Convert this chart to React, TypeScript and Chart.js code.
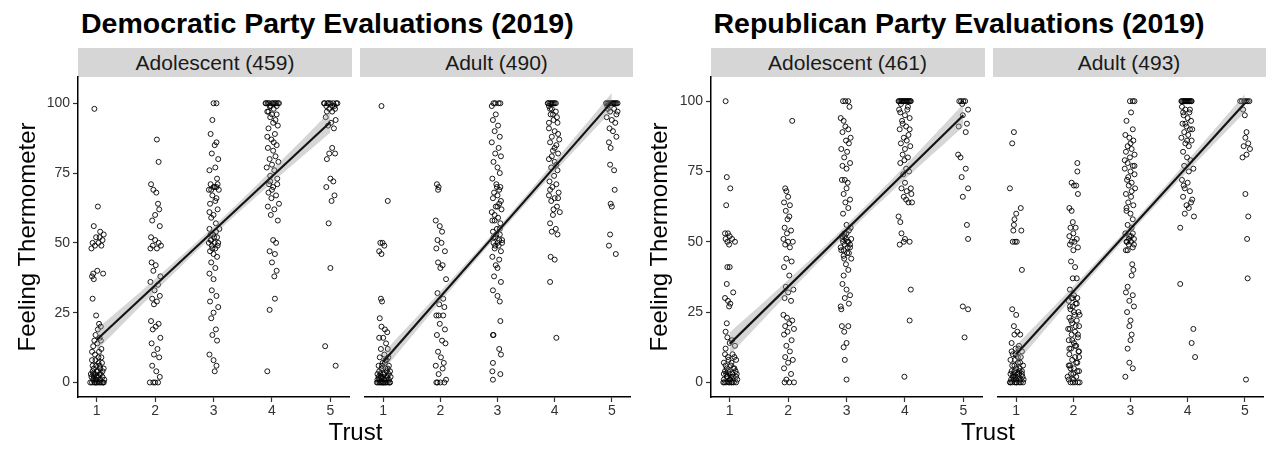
import React, { useEffect, useRef } from "react";
import { Chart, registerables } from "chart.js";
Chart.register(...registerables);

type P = [number, number];

const xTicks = [1, 2, 3, 4, 5];
const yTicks = [0, 25, 50, 75, 100];
const bandX = [1, 2, 3, 4, 5];
const lineX = [1, 5];

const plotTitles = ["Democratic Party Evaluations (2019)", "Republican Party Evaluations (2019)"];
const stripLabels = ["Adolescent (459)", "Adult (490)", "Adolescent (461)", "Adult (493)"];

// ---------- Democratic, adolescent ----------
const demAdolT1: P[] = [[0.96,98],[1.02,63],[0.95,56],[1.06,54],[0.99,52],[1.1,51],[0.93,50],[1.03,50],[1.08,49],[0.97,49],[1.12,53],[0.91,48],[1.05,52],[0.94,39],[0.92,38],[1.01,40],[0.95,37],[1.11,39],[0.93,30],[0.99,24],[1.04,21],[1.07,20],[1.02,19],[0.98,17],[1.05,16],[0.96,15],[1.01,14],[0.94,13],[1.08,12],[0.97,10],[1.03,9],[0.92,8],[1.09,7],[0.99,6],[1.05,6],[0.95,5],[1.12,5],[1.0,4],[0.93,4],[1.07,3],[0.97,3],[1.03,2],[1.1,2],[0.91,2],[0.98,1],[1.06,1],[0.94,1],[1.01,0],[0.96,0],[1.04,0],[1.09,0],[0.92,0],[1.12,0],[0.99,0],[1.06,0]];
const demAdolT1b: P[] = [[0.9,3],[0.95,2],[1.0,1],[1.05,3],[1.1,4],[0.93,6],[0.98,8],[1.03,7],[1.08,9],[1.13,1],[0.89,0],[1.0,2],[0.94,3],[1.06,5],[1.11,0],[0.97,0],[1.02,4],[0.92,11],[1.04,11],[1.07,15]];
const demAdolT2: P[] = [[2.03,87],[2.06,79],[1.93,71],[1.97,69],[2.02,68],[2.05,64],[2.07,62],[2.0,60],[1.95,58],[2.08,56],[1.93,52],[2.0,51],[2.06,50],[1.96,49],[2.1,49],[1.92,48],[2.03,48],[1.94,43],[2.01,42],[1.97,40],[2.09,38],[1.92,36],[2.05,35],[1.99,33],[2.08,31],[1.95,30],[2.03,29],[1.98,28],[1.93,22],[2.06,21],[2.01,20],[1.96,19],[2.09,16],[1.94,14],[2.04,12],[1.98,10],[2.07,9],[1.95,6],[2.02,4],[2.08,2],[1.91,0],[2.0,0],[2.05,0],[1.97,0]];
const demAdolT3: P[] = [[3.0,100],[3.05,100],[2.98,94],[2.95,89],[3.05,86],[3.02,85],[2.97,82],[3.08,80],[3.03,77],[2.93,76],[3.06,73],[2.95,71],[3.0,70],[3.05,70],[2.92,69],[3.09,69],[2.98,67],[3.03,65],[2.94,64],[3.07,62],[3.0,60],[2.96,59],[3.04,57],[2.93,55],[3.1,55],[2.99,53],[3.06,52],[2.95,51],[3.02,50],[3.08,50],[2.97,49],[3.03,48],[2.94,47],[3.0,46],[3.06,45],[2.96,43],[3.03,41],[2.93,39],[3.0,37],[2.97,33],[3.05,31],[2.94,29],[3.08,27],[3.0,25],[2.96,23],[3.04,19],[2.98,17],[3.06,15],[2.93,10],[3.0,8],[3.05,6],[3.02,4]];
const demAdolT3b: P[] = [[2.92,50],[2.96,51],[3.01,52],[3.07,49],[2.95,53],[3.04,54],[2.98,48],[3.02,70],[2.96,69],[3.07,71],[2.93,61],[3.05,66]];
const demAdolT4: P[] = [[3.9,100],[3.95,100],[4.0,100],[4.05,100],[4.1,100],[3.93,100],[4.07,100],[3.98,99],[4.03,98],[3.92,97],[4.08,96],[3.97,95],[4.02,93],[4.1,92],[3.94,91],[4.05,89],[3.99,87],[4.08,85],[3.93,84],[4.02,83],[4.06,81],[3.96,80],[4.11,79],[4.0,78],[3.91,77],[4.04,76],[3.97,72],[4.09,71],[4.02,70],[3.94,68],[4.07,67],[3.99,66],[4.12,64],[3.93,63],[4.04,62],[3.98,60],[4.1,58],[4.02,51],[4.07,50],[3.96,47],[4.05,46],[4.0,43],[4.08,40],[4.04,38],[4.05,30],[3.96,26],[3.92,4]];
const demAdolT4b: P[] = [[3.89,100],[3.96,99],[4.02,100],[4.08,99],[4.12,100],[3.94,97],[4.0,96],[4.06,94],[3.92,88],[4.03,86],[3.97,74],[4.09,73],[3.95,71],[4.0,69]];
const demAdolT5: P[] = [[4.9,100],[4.95,100],[5.0,100],[5.05,100],[5.1,100],[4.93,99],[5.07,99],[4.98,98],[5.03,97],[4.92,95],[5.09,94],[5.01,93],[4.96,92],[5.06,91],[5.03,84],[4.98,82],[5.08,82],[4.94,80],[5.0,73],[5.05,72],[4.93,70],[5.07,67],[5.02,65],[4.97,57],[5.0,41],[4.91,13],[5.09,6]];
const demAdolT5b: P[] = [[4.89,100],[4.97,100],[5.03,99],[5.08,98],[4.94,97],[5.12,100]];
const demAdolLine = [15.3, 93.3];
const demAdolLo = [11.5, 32.5, 52.7, 71.5, 89.5];
const demAdolHi = [19.1, 37.1, 55.9, 76.1, 97.1];

// ---------- Democratic, adult ----------
const demAdultT1: P[] = [[0.97,99],[1.08,65],[0.95,50],[0.99,50],[1.02,49],[0.93,47],[0.97,46],[0.96,30],[0.98,29],[0.94,23],[0.97,20],[1.03,19],[1.07,18],[0.93,16],[1.0,16],[1.05,14],[0.96,12],[1.08,12],[1.02,10],[0.94,9],[1.06,8],[0.99,7],[1.1,6],[0.92,6],[1.04,5],[0.97,5],[1.12,4],[1.0,3],[0.9,3],[1.07,2],[0.95,2],[1.02,1],[1.1,1],[0.93,1],[0.98,0],[1.05,0],[1.12,0],[0.91,0],[1.01,0],[0.96,0],[1.08,0],[1.03,0]];
const demAdultT1b: P[] = [[0.9,1],[0.95,3],[1.0,2],[1.05,1],[1.1,3],[0.93,4],[0.98,6],[1.03,7],[1.08,5],[1.13,2],[0.89,0],[1.0,0],[0.94,0],[1.06,4],[1.11,0],[0.97,2],[1.02,3],[0.92,2],[1.04,8],[1.09,9]];
const demAdultT2: P[] = [[1.94,71],[1.97,70],[1.96,69],[1.92,58],[1.99,56],[2.03,54],[1.95,51],[2.02,50],[1.93,48],[2.08,47],[1.96,43],[2.04,42],[2.0,41],[2.1,37],[1.95,32],[2.05,30],[1.98,28],[2.07,27],[1.93,24],[1.97,24],[2.05,24],[1.99,21],[2.08,19],[1.94,17],[2.03,15],[2.09,14],[1.96,11],[2.01,9],[2.06,7],[1.92,6],[2.04,5],[1.97,3],[2.1,1],[1.93,0],[2.0,0],[2.07,0],[1.95,0]];
const demAdultT3: P[] = [[2.93,100],[2.96,100],[3.02,100],[3.05,100],[2.9,99],[2.97,96],[2.92,94],[3.01,92],[2.95,90],[3.04,88],[2.9,86],[3.02,84],[2.96,82],[3.06,81],[2.93,79],[3.0,77],[3.04,75],[2.91,73],[2.98,71],[3.05,70],[2.94,68],[3.0,67],[2.92,66],[3.03,64],[2.97,63],[3.07,62],[2.9,61],[3.01,59],[2.95,58],[3.05,57],[2.99,55],[2.92,54],[3.04,53],[2.96,52],[3.08,51],[2.93,50],[3.0,50],[3.02,49],[2.95,48],[3.06,47],[2.91,45],[3.03,44],[2.97,42],[3.0,41],[2.94,38],[3.06,36],[2.92,33],[3.0,31],[3.04,29],[3.05,22],[2.92,17],[2.93,17],[3.03,12],[3.06,10],[2.92,7],[2.91,4],[3.05,3],[2.92,1]];
const demAdultT3b: P[] = [[2.93,52],[2.98,53],[3.03,51],[3.08,50],[2.96,49],[3.04,55],[2.91,58],[3.0,63],[3.06,65],[2.95,60],[2.99,70],[3.03,69]];
const demAdultT4: P[] = [[3.88,100],[3.92,100],[3.96,100],[4.0,100],[3.9,99],[3.95,98],[4.02,97],[3.93,96],[3.98,94],[4.05,93],[3.9,91],[4.0,90],[3.95,88],[4.08,87],[3.92,86],[4.03,85],[3.97,83],[4.06,82],[3.9,80],[4.0,79],[3.94,77],[4.05,76],[3.99,74],[3.91,72],[4.03,71],[3.96,70],[4.07,68],[3.9,67],[4.0,66],[3.94,65],[4.04,63],[3.98,62],[4.09,61],[3.92,57],[4.02,55],[3.95,54],[4.05,53],[3.93,45],[4.0,44],[3.92,36],[4.03,16]];
const demAdultT4b: P[] = [[3.89,100],[3.94,100],[3.98,100],[4.02,100],[3.92,98],[3.97,96],[4.04,95],[3.9,93],[4.06,89],[4.0,84],[3.95,81],[4.03,78],[3.92,69],[4.06,66],[3.97,60]];
const demAdultT5: P[] = [[4.9,100],[4.94,100],[4.98,100],[5.02,100],[5.06,100],[5.1,100],[4.92,99],[5.04,98],[4.97,97],[5.08,96],[4.91,95],[5.0,94],[5.06,93],[4.96,91],[5.02,90],[5.08,88],[4.95,86],[4.98,84],[4.97,78],[5.04,76],[5.05,69],[4.98,64],[5.0,63],[4.97,53],[4.95,49],[5.07,46]];
const demAdultT5b: P[] = [[4.92,100],[4.96,100],[5.0,100],[5.04,100],[5.08,100],[4.93,98],[5.1,97]];
const demAdultLine = [7.4, 100.5];
const demAdultLo = [4.2, 28.8, 52.6, 75.4, 97.3];
const demAdultHi = [10.6, 32.6, 55.2, 79.2, 103.7];

// ---------- Republican, adolescent ----------
const repAdolT1: P[] = [[0.93,100],[0.95,73],[1.01,69],[0.94,63],[0.92,53],[0.97,53],[1.0,52],[0.93,51],[1.04,51],[0.96,50],[1.09,50],[0.99,49],[0.96,41],[1.0,41],[0.95,35],[1.06,32],[0.92,30],[0.97,29],[1.01,28],[0.99,27],[0.95,21],[0.93,18],[0.96,16],[1.04,15],[1.0,14],[1.09,13],[0.93,12],[1.05,10],[0.97,9],[1.11,8],[0.9,7],[1.02,6],[0.95,5],[1.08,5],[0.92,4],[1.0,3],[1.12,3],[0.96,2],[1.05,2],[0.9,1],[1.01,1],[0.94,0],[0.98,0],[1.03,0],[1.07,0],[1.11,0],[0.91,0]];
const repAdolT1b: P[] = [[0.9,3],[0.95,2],[1.0,1],[1.05,3],[1.1,4],[0.93,6],[0.98,8],[1.03,7],[1.08,9],[1.13,1],[0.89,0],[1.0,0],[0.94,3],[1.06,5],[1.11,2],[0.97,4],[1.02,2],[0.92,10],[1.04,0]];
const repAdolT2: P[] = [[2.07,93],[1.95,69],[1.97,68],[2.0,66],[1.93,64],[2.03,63],[1.96,61],[2.02,59],[1.99,58],[1.94,55],[2.05,54],[1.98,53],[1.92,51],[2.0,50],[2.08,50],[1.95,49],[2.03,48],[1.97,44],[2.06,43],[1.93,41],[2.02,38],[1.96,34],[2.09,33],[2.0,32],[1.94,30],[2.05,29],[1.92,24],[1.98,23],[2.07,22],[2.02,21],[1.95,20],[2.1,19],[1.99,18],[1.93,17],[2.06,15],[1.97,13],[2.03,11],[1.95,9],[2.08,8],[2.0,7],[1.93,5],[2.05,3],[1.97,1],[2.1,0],[1.94,0],[2.02,0]];
const repAdolT3: P[] = [[2.94,100],[2.98,100],[3.03,100],[3.05,98],[2.9,94],[2.95,93],[2.98,91],[3.03,90],[2.93,89],[3.07,87],[2.99,86],[3.04,85],[2.91,83],[3.01,82],[2.96,80],[3.06,78],[2.93,77],[3.0,76],[2.92,72],[2.97,72],[3.02,71],[3.0,69],[2.95,67],[3.06,65],[2.98,64],[3.03,62],[2.94,60],[3.0,56],[3.04,54],[2.96,53],[2.92,52],[3.08,51],[2.99,51],[2.94,50],[3.03,50],[2.97,49],[3.06,48],[2.91,47],[3.01,46],[2.95,45],[3.08,44],[2.99,42],[3.03,40],[2.95,38],[2.93,35],[3.0,33],[3.06,31],[2.97,30],[3.04,28],[2.9,27],[2.91,26],[2.92,20],[3.03,20],[2.96,18],[3.0,14],[2.95,12.5],[2.97,8],[3.0,1]];
const repAdolT3b: P[] = [[2.93,51],[2.97,52],[3.01,50],[3.06,49],[2.95,47],[3.04,46],[2.9,48],[3.0,53],[3.07,55],[2.96,44],[3.02,48]];
const repAdolT4: P[] = [[3.89,100],[3.92,100],[3.95,100],[3.98,100],[4.01,100],[4.04,100],[4.07,100],[4.1,100],[3.93,99],[4.05,98],[3.9,97],[4.0,95],[4.08,94],[3.95,93],[4.02,91],[3.91,90],[4.06,88],[3.98,87],[4.03,86],[3.93,85],[4.09,84],[4.0,83],[3.96,81],[4.05,80],[3.92,78],[4.02,76],[4.07,75],[3.97,74],[4.0,71],[3.94,69],[4.1,69],[4.03,68],[3.98,66],[4.06,64],[4.12,64],[3.89,59],[3.92,57],[3.94,53],[4.0,51],[3.98,50],[4.08,50],[3.91,49],[4.1,33],[4.08,22],[3.99,2]];
const repAdolT4b: P[] = [[3.9,100],[3.94,100],[3.97,100],[4.0,100],[4.03,100],[4.06,100],[4.09,100],[3.92,96],[4.04,97],[3.96,92],[4.08,90],[3.99,79],[4.11,67],[4.02,65]];
const repAdolT5: P[] = [[4.93,100],[4.96,100],[5.0,100],[5.03,100],[4.98,99],[5.08,97],[4.99,95],[5.06,92],[4.92,91],[5.04,89],[4.91,81],[4.95,80],[5.04,76],[4.97,73],[5.08,69],[4.99,66],[5.06,56],[5.08,51],[4.99,27],[5.08,26],[5.02,16]];
const repAdolLine = [13.7, 95];
const repAdolLo = [9.7, 31.6, 52.6, 72.2, 91.0];
const repAdolHi = [17.7, 36.4, 56.0, 77.0, 99.0];

// ---------- Republican, adult ----------
const repAdultT1: P[] = [[0.96,89],[0.93,85],[0.89,69],[1.08,62],[1.0,60],[0.97,58],[0.96,56],[0.95,54],[1.09,54],[0.94,50],[0.98,50],[1.01,50],[1.1,40],[0.93,26],[1.0,24],[0.96,20],[1.02,18],[1.07,17],[0.97,17],[0.92,14],[1.05,13],[0.99,12],[1.1,11],[0.94,10],[1.03,9],[0.9,8],[1.07,7],[0.97,6],[1.12,6],[1.0,5],[0.92,4],[1.06,4],[0.95,3],[1.1,3],[0.99,2],[1.04,2],[0.91,1],[1.08,1],[0.96,1],[1.01,0],[0.93,0],[1.05,0],[1.12,0],[0.98,0],[0.9,0],[1.08,0]];
const repAdultT1b: P[] = [[0.9,3],[0.95,2],[1.0,1],[1.05,3],[1.1,4],[0.93,6],[0.98,8],[1.03,7],[1.08,9],[1.13,1],[0.89,0],[1.0,0],[0.94,2],[1.06,5],[1.11,2],[0.97,4],[1.02,3],[0.92,11],[1.04,12],[0.99,10]];
const repAdultT2: P[] = [[2.07,78],[2.07,75],[1.97,71],[2.01,70],[2.05,70],[2.08,67],[1.93,62],[1.97,61],[1.99,57],[1.95,55],[2.04,55],[2.0,53],[1.93,52],[2.06,51],[1.97,50],[2.02,50],[1.94,49],[2.08,48],[2.0,47],[1.96,43],[2.03,41],[1.99,37],[2.06,37],[1.94,33],[2.01,31],[1.97,30],[2.07,30],[1.92,29],[2.04,28],[1.99,27],[1.95,26],[2.09,25],[2.02,24],[1.93,23],[2.06,22],[1.98,21],[2.1,20],[1.94,19],[2.03,18],[1.97,17],[2.08,16],[1.92,15],[2.01,14],[2.05,13],[1.96,12],[2.1,11],[1.93,10],[2.03,9],[1.98,8],[2.07,7],[1.94,6],[2.01,5],[2.1,4],[1.96,3],[2.05,2],[1.92,1],[2.0,1],[2.08,0],[1.95,0],[2.03,0],[1.99,0],[2.11,0]];
const repAdultT2b: P[] = [[1.9,2],[1.95,5],[2.0,3],[2.05,7],[2.1,9],[1.93,12],[1.98,15],[2.03,13],[2.08,17],[1.91,19],[1.96,22],[2.01,25],[2.06,28],[2.11,24],[1.94,27],[1.99,30],[2.04,20],[2.09,11],[1.92,6],[2.07,4]];
const repAdultT3: P[] = [[2.99,100],[3.04,100],[3.07,100],[3.01,96],[2.93,93],[3.04,90],[2.91,88],[2.98,87],[3.05,86],[2.95,84],[3.02,83],[2.92,82],[3.07,81],[2.99,80],[2.95,78],[3.04,77],[2.9,76],[3.0,75],[3.07,74],[2.94,72],[3.02,71],[2.97,70],[3.08,69],[2.92,67],[3.01,66],[2.96,64],[3.05,63],[2.93,61],[3.0,60],[3.04,58],[2.95,56],[3.02,55],[2.91,53],[2.98,52],[3.06,51],[2.94,50],[3.01,50],[2.97,49],[3.04,48],[2.92,47],[3.03,42],[3.05,40],[3.02,38],[2.95,34],[2.92,32],[3.04,31],[2.98,29],[3.06,27],[2.94,25],[3.0,22],[2.98,20],[3.02,17],[3.0,15],[2.95,12],[2.98,7],[3.04,5],[2.91,2]];
const repAdultT3b: P[] = [[2.93,50],[2.97,51],[3.01,52],[3.06,49],[2.95,47],[3.04,53],[2.9,79],[3.0,85],[3.07,77],[2.96,73],[3.02,68],[2.93,62]];
const repAdultT4: P[] = [[3.89,100],[3.92,100],[3.95,100],[3.98,100],[4.01,100],[4.04,100],[4.07,100],[3.9,98],[3.96,97],[4.03,96],[3.93,95],[4.0,94],[4.06,93],[3.91,92],[3.98,91],[4.04,90],[3.94,89],[4.01,88],[3.89,87],[4.07,86],[3.96,85],[4.02,84],[3.92,82],[3.99,80],[4.05,79],[3.94,77],[4.1,76],[3.9,72],[4.0,71],[3.95,69],[4.04,68],[3.92,66],[4.08,65],[3.98,63],[4.02,62],[3.95,60],[4.11,59],[3.87,55],[3.87,35],[4.1,19],[4.07,14],[4.13,9]];
const repAdultT4b: P[] = [[3.9,100],[3.94,100],[3.97,100],[4.0,100],[4.03,100],[4.06,100],[3.92,96],[4.04,97],[3.96,92],[4.08,90],[3.99,86],[4.02,75],[3.93,70],[4.06,64]];
const repAdultT5: P[] = [[4.92,100],[4.95,100],[4.99,100],[5.02,100],[5.05,100],[5.08,100],[4.97,97],[5.0,95],[5.03,89],[5.01,87],[5.06,85],[4.98,84],[5.09,83],[5.03,81],[4.96,80],[5.01,67],[5.06,59],[5.04,51],[5.05,37],[5.02,1]];
const repAdultLine = [10, 99.3];
const repAdultLo = [6.8, 30.4, 53.2, 75.1, 96.1];
const repAdultHi = [13.2, 34.2, 56.0, 78.9, 102.5];

const FONT = '"Liberation Sans", Arial, Helvetica, sans-serif';
const X_MIN = 0.68;
const X_MAX = 5.32;
const PANEL_TOP = 77;
const PANEL_H = 320;
const Y_AXIS_W = 78;
const X_AXIS_H = 40;
const PAD_T = 16;
const PAD_R = 2;

interface PanelProps {
  left: number;
  width: number;
  showY: boolean;
  yMin: number;
  yMax: number;
  clusters: P[][];
  line: number[];
  lo: number[];
  hi: number[];
}

function Panel({ left, width, showY, yMin, yMax, clusters, line, lo, hi }: PanelProps) {
  const ref = useRef<HTMLCanvasElement>(null);
  const yw = showY ? Y_AXIS_W : 0;
  const cw = yw + width + PAD_R;
  const ch = PAD_T + PANEL_H + X_AXIS_H;

  useEffect(() => {
    if (!ref.current) return;
    const pts = clusters.flat().map(([x, y]) => ({ x, y }));
    const chart = new Chart(ref.current, {
      type: "line",
      data: {
        datasets: [
          {
            data: lineX.map((x, i) => ({ x, y: line[i] })),
            borderColor: "#141414",
            borderWidth: 2.2,
            pointRadius: 0,
            fill: false,
            tension: 0,
          },
          {
            data: bandX.map((x, i) => ({ x, y: hi[i] })),
            borderWidth: 0,
            borderColor: "rgba(0,0,0,0)",
            pointRadius: 0,
            fill: false,
            tension: 0.35,
          },
          {
            data: bandX.map((x, i) => ({ x, y: lo[i] })),
            borderWidth: 0,
            borderColor: "rgba(0,0,0,0)",
            backgroundColor: "rgba(153,153,153,0.4)",
            pointRadius: 0,
            fill: "-1",
            tension: 0.35,
          },
          {
            data: pts,
            showLine: false,
            pointRadius: 2.5,
            pointBorderWidth: 0.9,
            pointBorderColor: "#000",
            pointBackgroundColor: "rgba(0,0,0,0)",
            borderColor: "#000",
            backgroundColor: "rgba(0,0,0,0)",
          },
        ],
      },
      options: {
        animation: false,
        responsive: false,
        events: [],
        layout: { padding: { left: 0, top: PAD_T, right: PAD_R, bottom: 0 } },
        plugins: { legend: { display: false }, tooltip: { enabled: false }, title: { display: false } },
        scales: {
          x: {
            type: "linear",
            min: X_MIN,
            max: X_MAX,
            afterFit: (s: any) => { s.height = X_AXIS_H; },
            afterBuildTicks: (s: any) => { s.ticks = xTicks.map((v) => ({ value: v })); },
            border: { display: true, color: "#000", width: 1.5 },
            grid: { display: true, drawOnChartArea: false, drawTicks: true, tickLength: 5, tickColor: "#333", tickWidth: 1.2 },
            ticks: { autoSkip: false, maxRotation: 0, padding: 1, color: "#333", font: { family: FONT, size: 14 } },
          },
          y: {
            type: "linear",
            display: showY,
            min: yMin,
            max: yMax,
            afterFit: (s: any) => { s.width = showY ? Y_AXIS_W : 0; },
            afterBuildTicks: (s: any) => { s.ticks = yTicks.map((v) => ({ value: v })); },
            border: { display: true, color: "#000", width: 1.5 },
            grid: { display: true, drawOnChartArea: false, drawTicks: true, tickLength: 5, tickColor: "#333", tickWidth: 1.2 },
            ticks: { autoSkip: false, padding: 3, color: "#333", font: { family: FONT, size: 14 } },
          },
        },
      },
    } as any);
    return () => chart.destroy();
  }, []);

  return (
    <canvas
      ref={ref}
      width={cw}
      height={ch}
      style={{ position: "absolute", left: left - yw, top: PANEL_TOP - PAD_T, width: cw, height: ch }}
    />
  );
}

function Strip({ left, width, label }: { left: number; width: number; label: string }) {
  return (
    <div
      style={{
        position: "absolute",
        left,
        top: 48,
        width,
        height: 29,
        background: "#D6D6D6",
        color: "#1a1a1a",
        fontSize: 21,
        lineHeight: "29px",
        textAlign: "center",
        whiteSpace: "nowrap",
      }}
    >
      {label}
    </div>
  );
}

function Facet({ offset, title, strips, a, b, yMin, yMax }: any) {
  return (
    <>
      <div
        style={{
          position: "absolute",
          left: 81 + offset,
          top: 9,
          fontSize: 28.5,
          fontWeight: "bold",
          lineHeight: "28px",
          color: "#000",
          whiteSpace: "nowrap",
        }}
      >
        {title}
      </div>
      <Strip left={78 + offset} width={274} label={strips[0]} />
      <Strip left={360 + offset} width={273} label={strips[1]} />
      <Panel left={78 + offset} width={274} showY={true} yMin={yMin} yMax={yMax} {...a} />
      <Panel left={360 + offset} width={273} showY={false} yMin={yMin} yMax={yMax} {...b} />
      <div
        style={{
          position: "absolute",
          left: 26.7 + offset - 150,
          top: 222,
          width: 300,
          height: 30,
          lineHeight: "30px",
          fontSize: 24,
          color: "#000",
          textAlign: "center",
          transform: "rotate(-90deg)",
          whiteSpace: "nowrap",
        }}
      >
        Feeling Thermometer
      </div>
      <div
        style={{
          position: "absolute",
          left: 355.5 + offset - 100,
          top: 416.7,
          width: 200,
          height: 30,
          lineHeight: "30px",
          fontSize: 24,
          color: "#000",
          textAlign: "center",
          whiteSpace: "nowrap",
        }}
      >
        Trust
      </div>
    </>
  );
}

export default function App() {
  return (
    <div
      style={{
        position: "absolute",
        left: 0,
        top: 0,
        width: 1267,
        height: 463,
        background: "#fff",
        overflow: "hidden",
        fontFamily: FONT,
      }}
    >
      <Facet
        offset={0}
        title={plotTitles[0]}
        strips={[stripLabels[0], stripLabels[1]]}
        yMin={-5.2}
        yMax={109.4}
        a={{ clusters: [demAdolT1, demAdolT1b, demAdolT2, demAdolT3, demAdolT3b, demAdolT4, demAdolT4b, demAdolT5, demAdolT5b], line: demAdolLine, lo: demAdolLo, hi: demAdolHi }}
        b={{ clusters: [demAdultT1, demAdultT1b, demAdultT2, demAdultT3, demAdultT3b, demAdultT4, demAdultT4b, demAdultT5, demAdultT5b], line: demAdultLine, lo: demAdultLo, hi: demAdultHi }}
      />
      <Facet
        offset={632.5}
        title={plotTitles[1]}
        strips={[stripLabels[2], stripLabels[3]]}
        yMin={-5.2}
        yMax={108.6}
        a={{ clusters: [repAdolT1, repAdolT1b, repAdolT2, repAdolT3, repAdolT3b, repAdolT4, repAdolT4b, repAdolT5], line: repAdolLine, lo: repAdolLo, hi: repAdolHi }}
        b={{ clusters: [repAdultT1, repAdultT1b, repAdultT2, repAdultT2b, repAdultT3, repAdultT3b, repAdultT4, repAdultT4b, repAdultT5], line: repAdultLine, lo: repAdultLo, hi: repAdultHi }}
      />
    </div>
  );
}
